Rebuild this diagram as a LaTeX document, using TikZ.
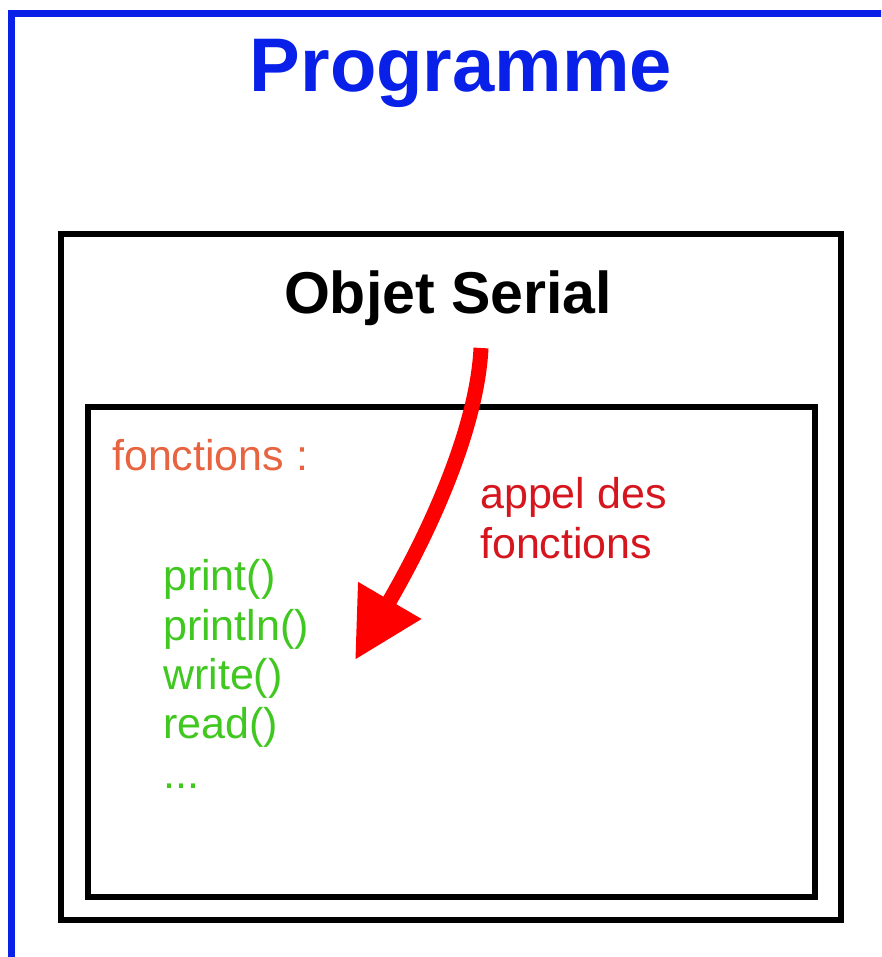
\documentclass[tikz,border=0pt]{standalone}
\usepackage{fontspec}
\setmainfont{Liberation Sans}
\usetikzlibrary{arrows.meta}
\definecolor{progblue}{RGB}{8,32,232}
\definecolor{fnorange}{RGB}{232,100,64}
\definecolor{callred}{RGB}{214,22,30}
\definecolor{arrowred}{RGB}{255,0,0}
\definecolor{fngreen}{RGB}{64,200,32}
\begin{document}
\begin{tikzpicture}[x=1pt,y=-1pt,
  titletext/.style={font=\bfseries\fontsize{76}{80}\selectfont, text=progblue, inner sep=0pt, anchor=base},
  objtext/.style={font=\bfseries\fontsize{59}{64}\selectfont, text=black, inner sep=0pt, anchor=base},
  fnhead/.style={font=\fontsize{43}{48}\selectfont, text=fnorange, inner sep=0pt, anchor=base west},
  calltext/.style={font=\fontsize{43}{48}\selectfont, text=callred, inner sep=0pt, anchor=base west},
  fnitem/.style={font=\fontsize{43}{48}\selectfont, text=fngreen, inner sep=0pt, anchor=base west},
  boxframe/.style={draw=black, line width=6pt, inner sep=0pt, outer sep=0pt},
  callarrow/.style={draw=arrowred, line width=15pt, -{Triangle[length=69pt,width=69pt]}}
]
\useasboundingbox (0,0) rectangle (881,957);
\clip (0,0) rectangle (881,957);
\fill[white] (0,0) rectangle (881,957);
% programme frame (continues beyond the picture)
\draw[progblue, line width=7pt] (11.5,13.5) rectangle (980,1050);
\node[titletext] (prog) at (461,92) {Programme};
% objet serial box
\node[boxframe, minimum width=780pt, minimum height=685pt] (objet) at (451,577) {};
\node[objtext] (objtitle) at (448,313) {Objet Serial};
% functions box
\node[boxframe, minimum width=727.5pt, minimum height=490pt] (fnbox) at (451.25,651.5) {};
\node[fnhead] (fnlabel) at (112,470) {fonctions :};
\node[fnitem] (f1) at (163,590) {print()};
\node[fnitem] (f2) at (163,640) {println()};
\node[fnitem] (f3) at (163,689) {write()};
\node[fnitem] (f4) at (163,738) {read()};
\node[fnitem] (f5) at (163,788) {...};
\node[calltext] (call1) at (480,508) {appel des};
\node[calltext] (call2) at (480,558) {fonctions};
% arrow
\coordinate (as) at (481,348);
\coordinate (ae) at (355,660);
\draw[callarrow] (as) .. controls (477,430) and (428,535) .. (ae);
\end{tikzpicture}
\end{document}
